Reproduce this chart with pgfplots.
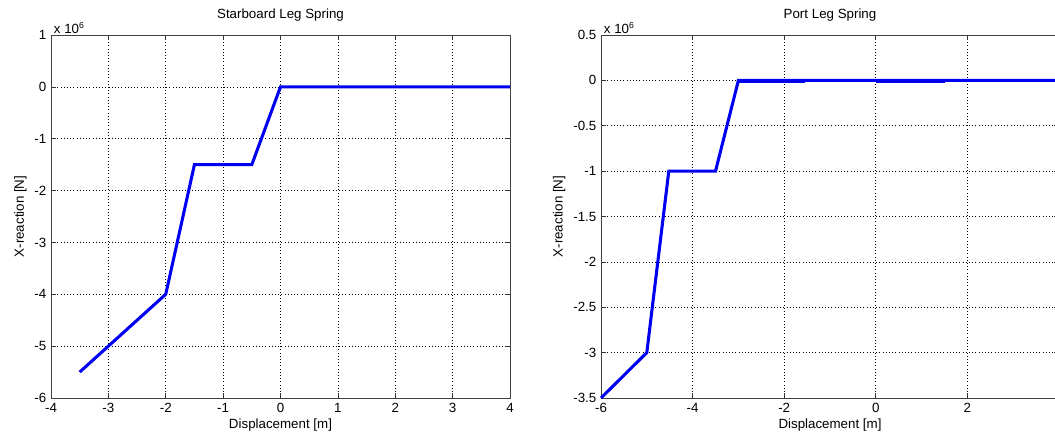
\documentclass[border=0pt]{standalone}
\usepackage{fontspec}
\setmainfont{Liberation Sans}
\usepackage{pgfplots}
\pgfplotsset{compat=1.18}
\definecolor{mblue}{RGB}{0,0,240}
\pgfplotsset{
  mstyle/.style={
    scale only axis,
    width=344.25pt, height=272.25pt,
    axis line style={black!75, line width=0.6pt},
    tick align=inside,
    tick style={black!80, line width=0.5pt},
    major tick length=4pt,
    grid=major,
    major grid style={black, dotted, line width=0.5pt},
    font=\fontsize{10}{12}\selectfont,
    /pgf/number format/assume math mode=true,
    title style={at={(0.5,1)}, anchor=south, yshift=1pt, font=\fontsize{10}{12}\selectfont},
    xlabel style={font=\fontsize{10}{12}\selectfont, yshift=2.5pt},
    ylabel style={font=\fontsize{10}{12}\selectfont, yshift=-1pt},
    xticklabel style={yshift=-0.5pt},
    scaled y ticks=false,
    clip=false,
  }
}
\begin{document}
\begin{tikzpicture}
\clip (0,0) rectangle (791.25pt,329.25pt);
\begin{axis}[mstyle, at={(38.25pt,30.75pt)}, anchor=south west,
  xmin=-4, xmax=4, ymin=-6e6, ymax=1e6,
  xtick={-4,-3,...,4}, ytick={-6e6,-5e6,-4e6,-3e6,-2e6,-1e6,0,1e6},
  yticklabels={-6,-5,-4,-3,-2,-1,0,1},
  title={Starboard Leg Spring}, xlabel={Displacement [m]}, ylabel={X-reaction [N]}]
\addplot[mblue, line width=2.3pt] coordinates {(-3.5,-5.5e6) (-2,-4e6) (-1.5,-1.5e6) (-0.5,-1.5e6) (0,0) (4,0)};
\node[anchor=south west, inner sep=1pt, xshift=1pt] at (rel axis cs:0,1) {x 10\textsuperscript{\fontsize{6.5}{7}\selectfont 6}};
\end{axis}
\begin{axis}[mstyle, at={(450.75pt,30.75pt)}, anchor=south west, width=343.5pt,
  xmin=-6, xmax=4, ymin=-3.5e6, ymax=0.5e6,
  xtick={-6,-4,...,4}, ytick={-3.5e6,-3e6,-2.5e6,-2e6,-1.5e6,-1e6,-0.5e6,0,0.5e6},
  yticklabels={-3.5,-3,-2.5,-2,-1.5,-1,-0.5,0,0.5},
  title={Port Leg Spring}, xlabel={Displacement [m]}, ylabel={X-reaction [N]}]
\addplot[mblue, line width=2.3pt] coordinates {(-6,-3.5e6) (-5,-3e6) (-4.52,-1e6) (-3.5,-1e6) (-3,0) (4,0)};
\addplot[mblue, line width=2.1pt] coordinates {(-3,-0.012e6) (-1.55,-0.012e6)};
\addplot[mblue, line width=2.1pt] coordinates {(0,-0.008e6) (1.5,-0.008e6)};
\node[anchor=south west, inner sep=1pt, xshift=1pt] at (rel axis cs:0,1) {x 10\textsuperscript{\fontsize{6.5}{7}\selectfont 6}};
\end{axis}
\end{tikzpicture}
\end{document}
